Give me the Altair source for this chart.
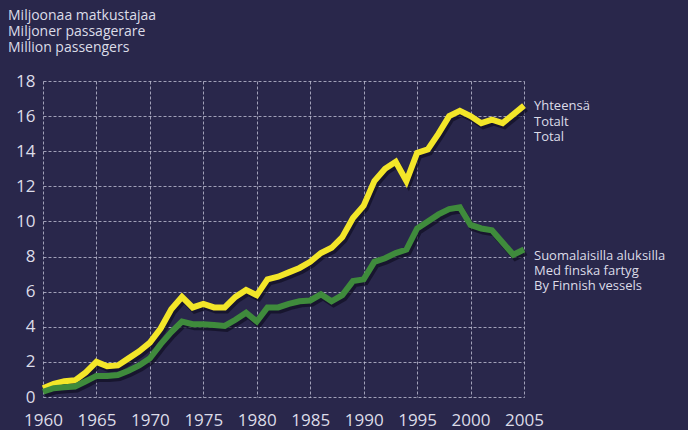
import altair as alt
import pandas as pd

years = list(range(1960, 2006))
total = [0.5, 0.75, 0.9, 0.95, 1.4, 2.0, 1.75, 1.8, 2.2, 2.6,
         3.1, 3.9, 5.0, 5.7, 5.1, 5.3, 5.1, 5.1, 5.7, 6.1,
         5.8, 6.7, 6.85, 7.1, 7.35, 7.7, 8.2, 8.5, 9.1, 10.2,
         10.9, 12.3, 13.0, 13.4, 12.3, 13.9, 14.1, 15.0, 16.0, 16.3,
         16.0, 15.6, 15.8, 15.6, 16.1, 16.6]
finnish = [0.3, 0.5, 0.55, 0.6, 0.9, 1.2, 1.2, 1.25, 1.5, 1.8,
           2.2, 3.0, 3.7, 4.3, 4.15, 4.15, 4.1, 4.05, 4.4, 4.8,
           4.3, 5.1, 5.1, 5.3, 5.45, 5.5, 5.85, 5.45, 5.8, 6.6,
           6.7, 7.7, 7.9, 8.2, 8.4, 9.6, 10.0, 10.4, 10.7, 10.8,
           9.8, 9.6, 9.5, 8.8, 8.1, 8.4]
series_names = ["Yhteensä", "Suomalaisilla aluksilla"]
series_colors = ["#f3e629", "#3f8b3c"]
x_ticks = list(range(1960, 2006, 5))
y_ticks = list(range(0, 19, 2))

title_lines = ["Miljoonaa matkustajaa", "Miljoner passagerare", "Million passengers"]
total_label = ["Yhteensä", "Totalt", "Total"]
finnish_label = ["Suomalaisilla aluksilla", "Med finska fartyg", "By Finnish vessels"]

df = pd.DataFrame({
    "year": years * 2,
    "value": total + finnish,
    "series": [series_names[0]] * len(years) + [series_names[1]] * len(years),
})

W, H = 481, 316
FONT = "Open Sans"
TXT = "#dcdce8"

xs = alt.X("year:Q", scale=alt.Scale(domain=[1960, 2005], nice=False),
           axis=alt.Axis(values=x_ticks, format="d", title=None, grid=True,
                         gridColor="#c9c9dc", gridDash=[3, 2], gridWidth=1, gridOpacity=0.75,
                         domain=False, ticks=False, labelColor=TXT, labelFont=FONT,
                         labelFontSize=17, labelPadding=15, labelFlush=False))
ys = alt.Y("value:Q", scale=alt.Scale(domain=[0, 18], nice=False),
           axis=alt.Axis(values=y_ticks, title=None, grid=True,
                         gridColor="#c9c9dc", gridDash=[3, 2], gridWidth=1, gridOpacity=0.75,
                         domain=False, ticks=False, labelColor=TXT, labelFont=FONT,
                         labelFontSize=17, labelPadding=8))

color = alt.Color("series:N", scale=alt.Scale(domain=series_names, range=series_colors), legend=None)

shadow = alt.Chart(df).mark_line(strokeWidth=6, color="#100e22", opacity=0.7,
                                 xOffset=2, yOffset=3, strokeJoin="miter").encode(
    x=xs, y=ys, detail="series:N")
lines = alt.Chart(df).mark_line(strokeWidth=6, strokeJoin="miter").encode(
    x=xs, y=ys, color=color,
    order=alt.Order("year:Q"))

title = alt.Chart(pd.DataFrame({"t": ["\n".join(title_lines)]})).mark_text(
    align="left", baseline="alphabetic", font=FONT, fontSize=14, color=TXT,
    lineBreak="\n", lineHeight=16).encode(text="t:N", x=alt.value(-35), y=alt.value(-61))

lab1 = alt.Chart(pd.DataFrame({"t": ["\n".join(total_label)]})).mark_text(
    align="left", baseline="alphabetic", font=FONT, fontSize=13, color=TXT,
    lineBreak="\n", lineHeight=15.5).encode(text="t:N", x=alt.value(W + 10), y=alt.value(29))
lab2 = alt.Chart(pd.DataFrame({"t": ["\n".join(finnish_label)]})).mark_text(
    align="left", baseline="alphabetic", font=FONT, fontSize=13, color=TXT,
    lineBreak="\n", lineHeight=15).encode(text="t:N", x=alt.value(W + 10), y=alt.value(179))

chart = alt.layer(shadow, lines, title, lab1, lab2).properties(
    width=W, height=H,
    autosize=alt.AutoSizeParams(type="none"),
    padding={"left": 43, "top": 81, "right": 164, "bottom": 33},
    background="#29274b",
).configure_view(stroke=None)

chart.save("out.html", embed_options={"renderer": "svg", "actions": False})
